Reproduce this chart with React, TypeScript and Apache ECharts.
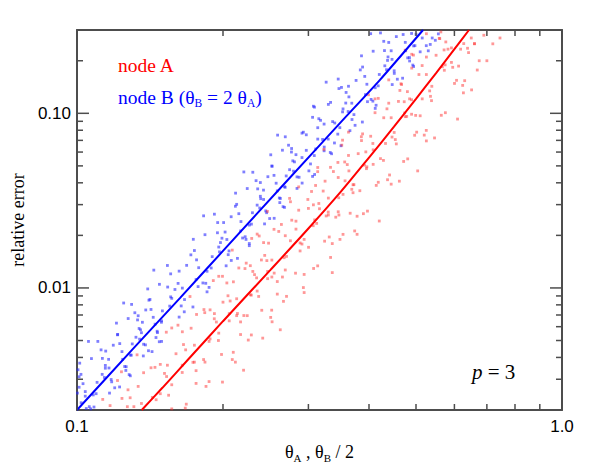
import React, { useEffect, useRef } from "react";
import * as echarts from "echarts";

const X_MIN = 0.1;
const X_MAX = 1.0;
const Y_MIN = 0.002;
const Y_MAX = 0.3;

const xMajorTicks = [0.1, 1.0];
const xMajorLabels = ["0.1", "1.0"];
const xMinorTicks = [0.2, 0.3, 0.4, 0.5, 0.6, 0.7, 0.8, 0.9];
const yMajorTicks = [0.01, 0.1];
const yMajorLabels = ["0.01", "0.10"];
const yMinorTicks = [
  0.003, 0.004, 0.005, 0.006, 0.007, 0.008, 0.009,
  0.02, 0.03, 0.04, 0.05, 0.06, 0.07, 0.08, 0.09,
  0.2,
];

const blueLine = [
  [0.1, 0.002], [0.13, 0.00443], [0.163, 0.00875], [0.2, 0.0163],
  [0.272, 0.0415], [0.35, 0.089], [0.421, 0.155], [0.517, 0.3],
];
const redLine = [
  [0.136, 0.002], [0.15, 0.00268], [0.17, 0.00393], [0.2, 0.00645],
  [0.25, 0.0126], [0.3, 0.0219], [0.35, 0.0356], [0.4, 0.0558],
  [0.45, 0.0836], [0.5, 0.121], [0.55, 0.17], [0.6, 0.233], [0.643, 0.3],
];

const blueCloud = [
  [0.101,0.0027],[0.102,0.0022],[0.1005,0.0034],[0.104,0.0024],
  [0.106,0.00209],[0.1013,0.00371],[0.108,0.00244],[0.1029,0.00283],
  [0.1084,0.00208],[0.1144,0.00347],[0.110,0.00288],[0.1056,0.00494],
  [0.1179,0.0029],[0.1121,0.00442],[0.1167,0.0025],[0.1144,0.0036],
  [0.1164,0.00348],[0.1224,0.00271],[0.1188,0.0047],[0.1242,0.0039],
  [0.1263,0.00354],[0.1206,0.00629],[0.1288,0.00413],[0.1225,0.0048],
  [0.1281,0.00319],[0.1352,0.00576],[0.130,0.00478],[0.1248,0.0082],
  [0.1384,0.00472],[0.1316,0.00721],[0.137,0.00408],[0.1343,0.00586],
  [0.1358,0.00554],[0.1428,0.00432],[0.1386,0.00748],[0.1449,0.0062],
  [0.1465,0.00555],[0.1399,0.00987],[0.1494,0.00648],[0.1421,0.00753],
  [0.1478,0.00492],[0.156,0.00889],[0.150,0.00739],[0.144,0.01265],
  [0.164,0.00789],[0.156,0.01204],[0.1624,0.00681],[0.1592,0.0098],
  [0.1649,0.00998],[0.1734,0.00778],[0.1683,0.01347],[0.176,0.01118],
  [0.1818,0.01068],[0.1737,0.01899],[0.1854,0.01246],[0.1764,0.01448],
  [0.1872,0.01007],[0.1976,0.01819],[0.190,0.01511],[0.1824,0.02588],
  [0.205,0.01551],[0.195,0.02368],[0.203,0.01339],[0.199,0.01927],
  [0.2037,0.01894],[0.2142,0.01477],[0.2079,0.02557],[0.2174,0.02121],
  [0.2222,0.01964],[0.2123,0.03491],[0.2266,0.02291],[0.2156,0.02662],
  [0.2266,0.01796],[0.2392,0.03244],[0.230,0.02695],[0.2208,0.04616],
  [0.246,0.02696],[0.234,0.04115],[0.2436,0.02327],[0.2388,0.03349],
  [0.2425,0.03211],[0.255,0.02505],[0.2475,0.04335],[0.2588,0.03596],
  [0.2626,0.03255],[0.2509,0.05787],[0.2678,0.03798],[0.2548,0.04413],
  [0.266,0.0292],[0.2808,0.05272],[0.270,0.04379],[0.2592,0.07502],
  [0.287,0.04303],[0.273,0.06567],[0.2842,0.03714],[0.2786,0.05344],
  [0.291,0.0558],[0.306,0.04352],[0.297,0.07533],[0.3105,0.0625],
  [0.3232,0.06102],[0.3088,0.1085],[0.3296,0.07119],[0.3136,0.08272],
  [0.3349,0.05868],[0.3536,0.106],[0.340,0.08802],[0.3264,0.1508],
  [0.369,0.09215],[0.351,0.1407],[0.3654,0.07954],[0.3582,0.1145],
  [0.3686,0.1143],[0.3876,0.08915],[0.3762,0.1543],[0.3933,0.128],
  [0.404,0.1201],[0.386,0.2134],[0.412,0.1401],[0.392,0.1627],
  [0.4137,0.1112],[0.4368,0.2009],[0.420,0.1669],[0.4032,0.2858],
  [0.451,0.1693],[0.429,0.2584],[0.4466,0.1461],[0.4378,0.2103],
  [0.4462,0.2037],[0.4692,0.1589],[0.4554,0.275],[0.4761,0.2281],
  [0.4848,0.2085],[0.4944,0.2433],[0.4704,0.2827],
  [0.4925,0.1889],[0.50,0.2834],
  [0.525,0.244],[0.535,0.248],[0.548,0.262],[0.515,0.27],
  [0.1045,0.00204],[0.101,0.0031],[0.1002,0.0025],
  [0.104,0.00255],[0.1019,0.0032],[0.1071,0.00394],
  [0.1139,0.00307],[0.1095,0.00248],[0.1128,0.00395],[0.1067,0.00203],
  [0.1127,0.0032],[0.1196,0.00268],[0.1104,0.00494],[0.1162,0.0039],
  [0.1254,0.00355],[0.1176,0.00299],[0.1212,0.00539],[0.1146,0.00435],
  [0.1238,0.00432],[0.1288,0.00314],[0.1213,0.00542],[0.1275,0.00668],
  [0.1346,0.00509],[0.1294,0.00412],[0.1333,0.00656],[0.1261,0.00337],
  [0.1323,0.00522],[0.1404,0.00437],[0.1296,0.00805],[0.1364,0.00636],
  [0.1463,0.00565],[0.1372,0.00476],[0.1414,0.00859],[0.1337,0.00693],
  [0.1436,0.00679],[0.1494,0.00494],[0.1407,0.00851],[0.1479,0.01049],
  [0.1553,0.00787],[0.1493,0.00636],[0.1538,0.01012],[0.1455,0.0052],
  [0.1568,0.00872],[0.1664,0.0073],[0.1536,0.01345],[0.1616,0.01062],
  [0.1777,0.01018],[0.1666,0.00858],[0.1717,0.01547],[0.1624,0.01248],
  [0.1782,0.01306],[0.1854,0.0095],[0.1746,0.01638],[0.1836,0.02018],
  [0.1967,0.01609],[0.1891,0.01301],[0.1948,0.0207],[0.1843,0.01063],
  [0.196,0.01715],[0.208,0.01437],[0.192,0.02645],[0.202,0.0209],
  [0.2195,0.01932],[0.2058,0.01629],[0.2121,0.02936],[0.2006,0.02368],
  [0.2178,0.024],[0.2266,0.01746],[0.2134,0.03011],[0.2244,0.03709],
  [0.2381,0.02869],[0.2289,0.0232],[0.2358,0.03693],[0.2231,0.01896],
  [0.2352,0.0298],[0.2496,0.02497],[0.2304,0.04598],[0.2424,0.03633],
  [0.2613,0.03275],[0.245,0.02761],[0.2525,0.04977],[0.2388,0.04014],
  [0.2574,0.03979],[0.2678,0.02894],[0.2522,0.04991],[0.2652,0.06149],
  [0.2795,0.04663],[0.2687,0.03771],[0.2768,0.06001],[0.2619,0.03082],
  [0.2744,0.04756],[0.2912,0.03986],[0.2688,0.07337],[0.2828,0.05797],
  [0.303,0.0513],[0.2842,0.04326],[0.2929,0.07797],[0.277,0.06288],
  [0.297,0.06138],[0.309,0.04464],[0.291,0.077],[0.306,0.09486],
  [0.3209,0.07084],[0.3085,0.05729],[0.3178,0.09117],[0.3007,0.04682],
  [0.3136,0.07119],[0.3328,0.05966],[0.3072,0.1098],[0.3232,0.08678],
  [0.3449,0.076],[0.3234,0.06407],[0.3333,0.1155],[0.3152,0.09313],
  [0.3366,0.08965],[0.3502,0.0652],[0.3298,0.1125],[0.3468,0.1386],
  [0.3623,0.1024],[0.3483,0.08277],[0.3588,0.1317],[0.3395,0.06764],
  [0.3528,0.1019],[0.3744,0.08536],[0.3456,0.1571],[0.3636,0.1242],
  [0.3971,0.1166],[0.3724,0.0983],[0.3838,0.1772],[0.3629,0.1429],
  [0.396,0.1467],[0.412,0.1067],[0.388,0.1841],[0.408,0.2268],
  [0.4347,0.1777],[0.4179,0.1437],[0.4305,0.2287],[0.4074,0.1174],
  [0.4312,0.1871],[0.4576,0.1568],[0.4224,0.2887],[0.4444,0.2281],
  [0.4807,0.2078],[0.4508,0.1752],[0.4393,0.2546],
  [0.4752,0.2549],[0.4944,0.1854],[0.4896,0.2866],
  [0.4975,0.244],[0.485,0.1994],
  [0.51,0.225],[0.54,0.27],[0.53,0.228],[0.556,0.285],
];
const redCloud = [
  [0.113,0.0023],[0.117,0.00212],
  [0.1238,0.00233],[0.1212,0.00295],[0.127,0.00209],
  [0.131,0.00209],[0.1274,0.00261],[0.1235,0.00331],[0.1287,0.00235],
  [0.1358,0.00218],[0.1372,0.00327],[0.133,0.00414],[0.143,0.00236],
  [0.1515,0.00324],[0.1485,0.00365],[0.1545,0.00243],
  [0.1568,0.00279],[0.1648,0.00361],[0.1528,0.00558],[0.1672,0.00205],[0.160,0.0042],
  [0.1734,0.00375],[0.1649,0.00561],[0.176,0.00284],[0.1675,0.00442],
  [0.1746,0.0047],[0.1872,0.00291],[0.1764,0.00705],[0.1836,0.00376],[0.171,0.00893],
  [0.1919,0.00666],[0.1824,0.00389],[0.1995,0.00289],[0.1881,0.00749],[0.1957,0.005],
  [0.196,0.00551],[0.206,0.00713],[0.191,0.01102],[0.209,0.00389],[0.200,0.00829],
  [0.2142,0.00714],[0.2037,0.01068],[0.2174,0.00541],[0.2069,0.00842],[0.2205,0.00338],
  [0.2134,0.00867],[0.2288,0.00538],[0.2156,0.01301],[0.2244,0.00694],[0.209,0.01647],
  [0.2323,0.01192],[0.2208,0.00695],[0.2415,0.00516],[0.2277,0.01341],[0.2369,0.00894],
  [0.2352,0.0096],[0.2472,0.01243],[0.2292,0.01921],[0.2508,0.00678],[0.240,0.01446],
  [0.255,0.01216],[0.2425,0.01818],[0.2588,0.00922],[0.2463,0.01434],[0.2625,0.00576],
  [0.2522,0.01444],[0.2704,0.00895],[0.2548,0.02166],[0.2652,0.01155],[0.247,0.02744],
  [0.2828,0.02172],[0.2688,0.01267],[0.294,0.00941],[0.2772,0.02444],[0.2884,0.01629],
  [0.294,0.01896],[0.309,0.02453],[0.2865,0.03791],[0.3135,0.01338],[0.300,0.02854],
  [0.3264,0.02584],[0.3104,0.03862],[0.3312,0.01958],[0.3152,0.03046],[0.336,0.01224],
  [0.3298,0.0327],[0.3536,0.02027],[0.3332,0.04905],[0.3468,0.02616],[0.323,0.06213],
  [0.3636,0.0468],[0.3456,0.0273],[0.378,0.02028],[0.3564,0.05265],[0.3708,0.0351],
  [0.3724,0.03902],[0.3914,0.05049],[0.3629,0.07803],[0.3971,0.02754],[0.380,0.05875],
  [0.408,0.05102],[0.388,0.07625],[0.414,0.03866],[0.394,0.06014],[0.42,0.02417],
  [0.4074,0.0672],[0.4368,0.04166],[0.4116,0.1008],[0.4284,0.05376],[0.399,0.1277],
  [0.4444,0.09432],[0.4224,0.05502],[0.462,0.04087],[0.4356,0.1061],[0.4532,0.07074],
  [0.4508,0.07769],[0.4738,0.1005],[0.4393,0.1554],[0.4807,0.05484],[0.460,0.117],
  [0.4896,0.0988],[0.4656,0.1477],[0.4968,0.07488],[0.4728,0.1165],[0.504,0.0468],
  [0.485,0.121],[0.52,0.07502],[0.49,0.1815],[0.51,0.0968],[0.475,0.2299],
  [0.5252,0.1668],[0.4992,0.0973],[0.546,0.07228],[0.5148,0.1877],[0.5356,0.1251],
  [0.539,0.1428],[0.5665,0.1848],[0.5253,0.2856],[0.5748,0.1008],[0.550,0.215],
  [0.5916,0.1957],[0.5626,0.2925],[0.6003,0.1483],[0.5713,0.2307],[0.609,0.0927],
  [0.582,0.233],[0.624,0.1445],[0.612,0.1864],
  [0.5952,0.1834],[0.651,0.1362],[0.6386,0.2358],
  [0.6272,0.2508],[0.6688,0.177],[0.66,0.25],
  [0.72,0.25],[0.7,0.2],[0.745,0.27],[0.69,0.28],
  [0.1456,0.00229],[0.1421,0.00349],[0.1337,0.00273],
  [0.1485,0.00248],[0.1568,0.00203],[0.1448,0.00351],[0.153,0.00311],
  [0.1648,0.00328],[0.1568,0.0059],[0.168,0.00216],[0.1536,0.00361],
  [0.1658,0.00474],[0.176,0.00336],[0.1615,0.00612],
  [0.1872,0.00494],[0.1746,0.00376],[0.1827,0.00752],[0.1719,0.00588],[0.1845,0.00273],
  [0.1881,0.00511],[0.1986,0.00416],[0.1834,0.00722],[0.1938,0.00638],
  [0.206,0.00648],[0.196,0.01166],[0.21,0.00428],[0.192,0.00713],
  [0.2048,0.00902],[0.2174,0.00639],[0.2121,0.00376],[0.1995,0.01166],
  [0.2288,0.0091],[0.2134,0.00694],[0.2233,0.01387],[0.2101,0.01084],[0.2255,0.00503],
  [0.2277,0.00914],[0.2404,0.00745],[0.222,0.01291],[0.2346,0.01142],
  [0.2472,0.0113],[0.2352,0.02034],[0.252,0.00746],[0.2304,0.01243],
  [0.2438,0.01536],[0.2588,0.01088],[0.2525,0.0064],[0.2375,0.01984],
  [0.2704,0.01516],[0.2522,0.01155],[0.2639,0.0231],[0.2483,0.01805],[0.2665,0.00838],
  [0.2673,0.0149],[0.2822,0.01215],[0.2606,0.02106],[0.2754,0.01863],
  [0.2884,0.0181],[0.2744,0.03258],[0.294,0.01195],[0.2688,0.01991],
  [0.2828,0.02412],[0.3002,0.01709],[0.2929,0.01005],[0.2755,0.03116],
  [0.312,0.02342],[0.291,0.01784],[0.3045,0.03568],[0.2865,0.02788],[0.3075,0.01293],
  [0.3069,0.02272],[0.324,0.01853],[0.2992,0.03211],[0.3162,0.02841],
  [0.3296,0.0272],[0.3136,0.04896],[0.336,0.01795],[0.3072,0.02992],
  [0.3218,0.03588],[0.3416,0.02542],[0.3333,0.01495],[0.3135,0.04635],
  [0.3536,0.03434],[0.3298,0.02616],[0.3451,0.05232],[0.3247,0.04088],[0.3485,0.01897],
  [0.3465,0.03284],[0.3658,0.02678],[0.3378,0.04641],[0.357,0.04106],
  [0.3708,0.039],[0.3528,0.0702],[0.378,0.02574],[0.3456,0.0429],
  [0.3608,0.05088],[0.383,0.03604],[0.3737,0.0212],[0.3515,0.06572],
  [0.3952,0.0482],[0.3686,0.03672],[0.3857,0.07344],[0.3629,0.05738],[0.3895,0.02662],
  [0.396,0.0494],[0.418,0.04028],[0.386,0.06981],[0.408,0.06176],
  [0.4326,0.0672],[0.4116,0.121],[0.441,0.04435],[0.4032,0.07392],
  [0.429,0.09432],[0.4554,0.06681],[0.4444,0.0393],[0.418,0.1218],
  [0.4784,0.09597],[0.4462,0.07312],[0.4669,0.1462],[0.4393,0.1143],[0.4715,0.05301],
  [0.4752,0.09568],[0.5016,0.078],[0.4632,0.1352],[0.4896,0.1196],
  [0.515,0.121],[0.49,0.2178],[0.525,0.07986],[0.48,0.1331],
  [0.507,0.1668],[0.5382,0.1182],[0.5252,0.0695],[0.494,0.2155],
  [0.572,0.1764],[0.5335,0.1344],[0.5583,0.2688],[0.5253,0.21],[0.5638,0.09744],
  [0.5742,0.1895],[0.6061,0.1545],[0.5597,0.2678],[0.5916,0.2369],
  [0.618,0.233],[0.63,0.1538],[0.576,0.2563],
  [0.6417,0.2227],[0.6262,0.131],
  [0.66,0.2507],[0.675,0.2],[0.65,0.27],
];

const AXIS_COLOR = "#4d4d4d";
const SERIF = "Times New Roman";
const SANS = "Arial";
const MAJOR_LEN = 12;
const MINOR_LEN = 6;

const labelFormatter = (ticks: number[], labels: string[]) => (v: number) => {
  const i = ticks.findIndex((t) => Math.abs(v / t - 1) < 1e-6);
  return i >= 0 ? labels[i] : "";
};

function tickSeries(axis: "x" | "y", values: number[], len: number) {
  return {
    type: "custom",
    coordinateSystem: "cartesian2d",
    xAxisIndex: 0,
    yAxisIndex: 0,
    silent: true,
    clip: false,
    z: 10,
    data: values.map((v) => (axis === "x" ? [v, Y_MIN] : [X_MIN, v])),
    renderItem: (params: any, api: any) => {
      const cs = params.coordSys;
      const p = api.coord([api.value(0), api.value(1)]);
      const style = { stroke: AXIS_COLOR, lineWidth: 1.5 };
      if (axis === "x") {
        const bottom = cs.y + cs.height;
        const top = cs.y;
        return {
          type: "group",
          children: [
            { type: "line", shape: { x1: p[0], y1: bottom, x2: p[0], y2: bottom - len }, style },
            { type: "line", shape: { x1: p[0], y1: top, x2: p[0], y2: top + len }, style },
          ],
        };
      }
      const left = cs.x;
      const right = cs.x + cs.width;
      return {
        type: "group",
        children: [
          { type: "line", shape: { x1: left, y1: p[1], x2: left + len, y2: p[1] }, style },
          { type: "line", shape: { x1: right, y1: p[1], x2: right - len, y2: p[1] }, style },
        ],
      };
    },
  };
}

const option: any = {
  animation: false,
  backgroundColor: "#ffffff",
  grid: { left: 77, right: 29, top: 30, bottom: 62, containLabel: false },
  xAxis: [
    {
      type: "log",
      logBase: 10,
      min: X_MIN,
      max: X_MAX,
      position: "bottom",
      axisLine: { show: true, onZero: false, lineStyle: { color: AXIS_COLOR, width: 2 } },
      axisTick: { show: false },
      splitLine: { show: false },
      axisLabel: {
        formatter: labelFormatter(xMajorTicks, xMajorLabels),
        fontFamily: SANS,
        fontSize: 17,
        color: "#000",
        margin: 8,
      },
      name: "θ{s|A} , θ{s|B} / 2",
      nameLocation: "middle",
      nameGap: 25,
      nameTextStyle: {
        fontFamily: SERIF,
        fontSize: 18,
        lineHeight: 24,
        color: "#000",
        rich: {
          s: { fontFamily: SERIF, fontSize: 11, lineHeight: 11, verticalAlign: "bottom", color: "#000" },
        },
      },
    },
    {
      type: "log",
      logBase: 10,
      min: X_MIN,
      max: X_MAX,
      position: "top",
      axisLine: { show: true, onZero: false, lineStyle: { color: AXIS_COLOR, width: 2 } },
      axisTick: { show: false },
      axisLabel: { show: false },
      splitLine: { show: false },
    },
  ],
  yAxis: [
    {
      type: "log",
      logBase: 10,
      min: Y_MIN,
      max: Y_MAX,
      position: "left",
      axisLine: { show: true, onZero: false, lineStyle: { color: AXIS_COLOR, width: 2 } },
      axisTick: { show: false },
      splitLine: { show: false },
      axisLabel: {
        formatter: labelFormatter(yMajorTicks, yMajorLabels),
        fontFamily: SANS,
        fontSize: 17,
        color: "#000",
        margin: 6,
      },
      name: "relative error",
      nameLocation: "middle",
      nameGap: 40,
      nameTextStyle: { fontFamily: SERIF, fontSize: 18, lineHeight: 18, color: "#000" },
    },
    {
      type: "log",
      logBase: 10,
      min: Y_MIN,
      max: Y_MAX,
      position: "right",
      axisLine: { show: true, onZero: false, lineStyle: { color: AXIS_COLOR, width: 2 } },
      axisTick: { show: false },
      axisLabel: { show: false },
      splitLine: { show: false },
    },
  ],
  series: [
    {
      name: "node B cloud",
      type: "scatter",
      data: blueCloud,
      symbol: "rect",
      symbolSize: 2.8,
      clip: true,
      itemStyle: { color: "#2a2aff", opacity: 0.6 },
      z: 2,
    },
    {
      name: "node A cloud",
      type: "scatter",
      data: redCloud,
      symbol: "rect",
      symbolSize: 2.8,
      clip: true,
      itemStyle: { color: "#ff3030", opacity: 0.5 },
      z: 2,
    },
    {
      name: "node B",
      type: "line",
      data: blueLine,
      showSymbol: false,
      smooth: 0.2,
      clip: true,
      lineStyle: { color: "#0000ff", width: 2 },
      z: 4,
    },
    {
      name: "node A",
      type: "line",
      data: redLine,
      showSymbol: false,
      smooth: 0.3,
      clip: true,
      lineStyle: { color: "#ff0000", width: 2 },
      z: 4,
    },
    tickSeries("x", xMajorTicks, MAJOR_LEN),
    tickSeries("x", xMinorTicks, MINOR_LEN),
    tickSeries("y", yMajorTicks, MAJOR_LEN),
    tickSeries("y", yMinorTicks, MINOR_LEN),
  ],
  graphic: [
    {
      type: "text",
      x: 118,
      y: 65,
      z: 20,
      style: {
        text: "node A",
        fill: "#ff0000",
        fontFamily: SERIF,
        fontSize: 19.5,
        lineHeight: 24,
        align: "left",
        verticalAlign: "middle",
      },
    },
    {
      type: "text",
      x: 118,
      y: 97,
      z: 20,
      style: {
        text: "node B (θ{s|B} = 2 θ{s|A})",
        fill: "#0000ff",
        fontFamily: SERIF,
        fontSize: 19.5,
        lineHeight: 24,
        align: "left",
        verticalAlign: "middle",
        rich: {
          s: { fontFamily: SERIF, fontSize: 11.5, lineHeight: 11, verticalAlign: "bottom", fill: "#0000ff" },
        },
      },
    },
    {
      type: "text",
      x: 472,
      y: 372,
      z: 20,
      style: {
        text: "{i|p} = 3",
        fill: "#000",
        fontFamily: SERIF,
        fontSize: 21,
        lineHeight: 24,
        align: "left",
        verticalAlign: "middle",
        rich: {
          i: { fontFamily: SERIF, fontSize: 21, fontStyle: "italic", fill: "#000" },
        },
      },
    },
  ],
};

export default function App() {
  const ref = useRef<HTMLDivElement>(null);
  useEffect(() => {
    if (!ref.current) return;
    const chart = echarts.init(ref.current, undefined, { renderer: "svg" });
    chart.setOption(option);
    return () => chart.dispose();
  }, []);
  return (
    <div
      ref={ref}
      style={{ position: "absolute", left: 0, top: 0, width: 591, height: 472, background: "#fff" }}
    />
  );
}
